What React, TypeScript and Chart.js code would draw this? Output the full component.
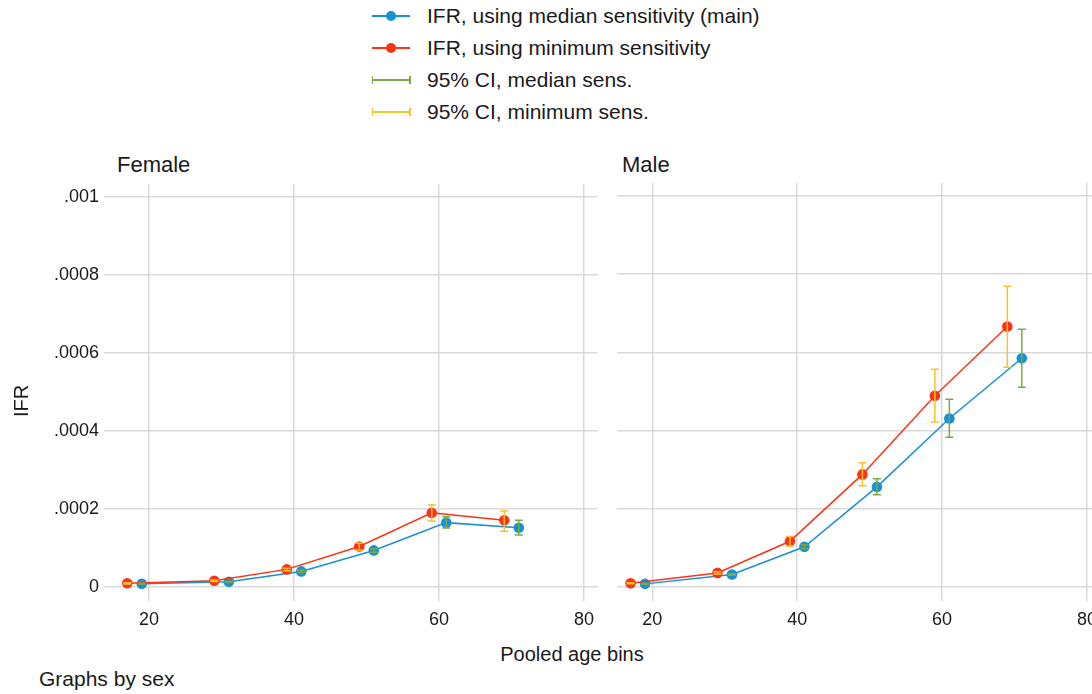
import React, { useEffect, useRef } from "react";
import { Chart, registerables } from "chart.js";
Chart.register(...registerables);

// ---------- data ----------
const X_TICKS = [20, 40, 60, 80];
const Y_TICKS = [0, 0.0002, 0.0004, 0.0006, 0.0008, 0.001];
const Y_TICK_LABELS = ["0", ".0002", ".0004", ".0006", ".0008", ".001"];
const X_MED = [19, 31, 41, 51, 61, 71];
const X_MIN = [17, 29, 39, 49, 59, 69];

const FEMALE_MED = [0.0000085, 0.0000136, 0.00004, 0.0000938, 0.000165, 0.000152];
const FEMALE_MED_LO = [0.000007, 0.000012, 0.000037, 0.000089, 0.000151, 0.000133];
const FEMALE_MED_HI = [0.00001, 0.000015, 0.000043, 0.000098, 0.00018, 0.000171];
const FEMALE_MIN = [0.0000095, 0.000016, 0.0000452, 0.000104, 0.00019, 0.000171];
const FEMALE_MIN_LO = [0.000008, 0.000014, 0.000042, 0.0000946, 0.000169, 0.000143];
const FEMALE_MIN_HI = [0.000011, 0.000018, 0.000048, 0.000113, 0.00021, 0.000195];

const MALE_MED = [0.000008, 0.000032, 0.000103, 0.000256, 0.000431, 0.000585];
const MALE_MED_LO = [0.000007, 0.00003, 0.000098, 0.000236, 0.000383, 0.000511];
const MALE_MED_HI = [0.000009, 0.000034, 0.000108, 0.000277, 0.00048, 0.000659];
const MALE_MIN = [0.0000095, 0.000036, 0.000117, 0.000288, 0.000489, 0.000666];
const MALE_MIN_LO = [0.000008, 0.000033, 0.000105, 0.000259, 0.000422, 0.000562];
const MALE_MIN_HI = [0.000011, 0.000039, 0.000129, 0.000318, 0.000557, 0.000769];

const LEGEND_LABELS = [
  "IFR, using median sensitivity (main)",
  "IFR, using minimum sensitivity",
  "95% CI, median sens.",
  "95% CI, minimum sens.",
];

// ---------- style ----------
const BLUE = "#1a90d4";
const RED = "#fb3414";
const GREEN = "#7aaa48";
const YELLOW = "#f8c22e";
const GRID = "#d9d9d9";
const TEXT = "#1a1a1a";
const FONT = "'Liberation Sans', Arial, Helvetica, sans-serif";

const errorBarPlugin = {
  id: "errbars",
  afterDatasetsDraw(chart: any, _args: any, opts: any) {
    const { ctx } = chart;
    const x = chart.scales.x;
    const y = chart.scales.y;
    ctx.save();
    for (const s of opts.sets || []) {
      ctx.strokeStyle = s.color;
      ctx.lineWidth = 1.5;
      s.xs.forEach((xv: number, i: number) => {
        const px = x.getPixelForValue(xv);
        const pl = y.getPixelForValue(s.lo[i]);
        const ph = y.getPixelForValue(s.hi[i]);
        ctx.beginPath();
        ctx.moveTo(px, pl);
        ctx.lineTo(px, ph);
        ctx.moveTo(px - 4, pl);
        ctx.lineTo(px + 4, pl);
        ctx.moveTo(px - 4, ph);
        ctx.lineTo(px + 4, ph);
        ctx.stroke();
      });
    }
    ctx.restore();
  },
};

type PanelProps = {
  left: number;
  width: number;
  yAxisWidth: number;
  showY: boolean;
  xMin: number;
  xMax: number;
  med: number[];
  medLo: number[];
  medHi: number[];
  mn: number[];
  mnLo: number[];
  mnHi: number[];
};

const PAD_TOP = 15;
const PAD_RIGHT = 15;
const PLOT_TOP = 183;
const PLOT_H = 418;
const XAXIS_H = 32;

function Panel(p: PanelProps) {
  const ref = useRef<HTMLCanvasElement>(null);
  useEffect(() => {
    const chart = new Chart(ref.current!, {
      type: "line",
      data: {
        datasets: [
          {
            data: X_MIN.map((x, i) => ({ x, y: p.mn[i] })),
            borderColor: RED,
            backgroundColor: RED,
            borderWidth: 1.5,
            pointRadius: 5.3,
            pointBorderWidth: 0,
            pointBackgroundColor: RED,
          },
          {
            data: X_MED.map((x, i) => ({ x, y: p.med[i] })),
            borderColor: BLUE,
            backgroundColor: BLUE,
            borderWidth: 1.5,
            pointRadius: 5.3,
            pointBorderWidth: 0,
            pointBackgroundColor: BLUE,
          },
        ],
      },
      plugins: [errorBarPlugin],
      options: {
        animation: false,
        responsive: false,
        maintainAspectRatio: false,
        layout: { padding: { top: PAD_TOP, right: PAD_RIGHT, left: 0, bottom: 0 } },
        plugins: {
          legend: { display: false },
          tooltip: { enabled: false },
          errbars: {
            sets: [
              { xs: X_MED, lo: p.medLo, hi: p.medHi, color: GREEN },
              { xs: X_MIN, lo: p.mnLo, hi: p.mnHi, color: YELLOW },
            ],
          },
        } as any,
        scales: {
          x: {
            type: "linear",
            min: p.xMin,
            max: p.xMax,
            afterBuildTicks: (s: any) => {
              s.ticks = X_TICKS.map((v) => ({ value: v }));
            },
            afterFit: (s: any) => {
              s.height = XAXIS_H;
            },
            grid: { color: GRID, lineWidth: 1.5, drawTicks: false },
            border: { display: false },
            ticks: {
              padding: 8,
              color: TEXT,
              font: { family: FONT, size: 18 },
              maxRotation: 0,
              callback: (v: any) => String(v),
            },
          },
          y: {
            type: "linear",
            min: -0.0000358,
            max: 0.0010332,
            afterBuildTicks: (s: any) => {
              s.ticks = Y_TICKS.map((v) => ({ value: v }));
            },
            afterFit: (s: any) => {
              s.width = p.yAxisWidth;
            },
            grid: { color: GRID, lineWidth: 1.5, drawTicks: false },
            border: { display: false },
            ticks: {
              display: p.showY,
              padding: 5,
              color: TEXT,
              font: { family: FONT, size: 18 },
              callback: (v: any) => {
                const i = Y_TICKS.findIndex((t) => Math.abs(t - v) < 1e-9);
                return i >= 0 ? Y_TICK_LABELS[i] : "";
              },
            },
          },
        },
      },
    } as any);
    return () => chart.destroy();
  }, []);
  const h = PAD_TOP + PLOT_H + XAXIS_H;
  return (
    <canvas
      ref={ref}
      width={p.width}
      height={h}
      style={{ position: "absolute", left: p.left, top: PLOT_TOP - PAD_TOP, width: p.width, height: h }}
    />
  );
}

function LegendRow({ cy, kind, color, label }: { cy: number; kind: string; color: string; label: string }) {
  return (
    <>
      <div style={{ position: "absolute", left: 372, top: cy - 0.75, width: 38, height: 1.5, background: color }} />
      {kind === "point" ? (
        <div
          style={{ position: "absolute", left: 386, top: cy - 5, width: 10, height: 10, borderRadius: 5, background: color }}
        />
      ) : (
        <>
          <div style={{ position: "absolute", left: 371.5, top: cy - 4, width: 1.5, height: 8, background: color }} />
          <div style={{ position: "absolute", left: 409, top: cy - 4, width: 1.5, height: 8, background: color }} />
        </>
      )}
      <div
        style={{
          position: "absolute",
          left: 427,
          top: cy - 16,
          height: 32,
          lineHeight: "32px",
          fontSize: 21,
          whiteSpace: "nowrap",
        }}
      >
        {label}
      </div>
    </>
  );
}

export default function App() {
  return (
    <div
      style={{
        position: "fixed",
        left: 0,
        top: 0,
        width: 1092,
        height: 694,
        overflow: "hidden",
        background: "#ffffff",
        fontFamily: FONT,
        color: TEXT,
      }}
    >
      <LegendRow cy={16} kind="point" color={BLUE} label={LEGEND_LABELS[0]} />
      <LegendRow cy={48} kind="point" color={RED} label={LEGEND_LABELS[1]} />
      <LegendRow cy={80} kind="ci" color={GREEN} label={LEGEND_LABELS[2]} />
      <LegendRow cy={112} kind="ci" color={YELLOW} label={LEGEND_LABELS[3]} />

      <div style={{ position: "absolute", left: 117, top: 149.5, lineHeight: "30px", fontSize: 22 }}>Female</div>
      <div style={{ position: "absolute", left: 622, top: 149.5, lineHeight: "30px", fontSize: 22 }}>Male</div>

      <Panel
        left={0}
        width={598 + PAD_RIGHT}
        yAxisWidth={104}
        showY={true}
        xMin={13.79}
        xMax={81.93}
        med={FEMALE_MED}
        medLo={FEMALE_MED_LO}
        medHi={FEMALE_MED_HI}
        mn={FEMALE_MIN}
        mnLo={FEMALE_MIN_LO}
        mnHi={FEMALE_MIN_HI}
      />
      <Panel
        left={612}
        width={1101 - 612 + PAD_RIGHT}
        yAxisWidth={0}
        showY={false}
        xMin={15.17}
        xMax={81.93}
        med={MALE_MED}
        medLo={MALE_MED_LO}
        medHi={MALE_MED_HI}
        mn={MALE_MIN}
        mnLo={MALE_MIN_LO}
        mnHi={MALE_MIN_HI}
      />

      <div
        style={{
          position: "absolute",
          left: 21 - 30,
          top: 401 - 15,
          width: 60,
          height: 30,
          lineHeight: "30px",
          textAlign: "center",
          fontSize: 20,
          transform: "rotate(-90deg)",
        }}
      >
        IFR
      </div>
      <div
        style={{
          position: "absolute",
          left: 572 - 150,
          top: 639,
          width: 300,
          lineHeight: "30px",
          textAlign: "center",
          fontSize: 20,
        }}
      >
        Pooled age bins
      </div>
      <div style={{ position: "absolute", left: 39, top: 663.5, lineHeight: "30px", fontSize: 21 }}>Graphs by sex</div>
    </div>
  );
}
